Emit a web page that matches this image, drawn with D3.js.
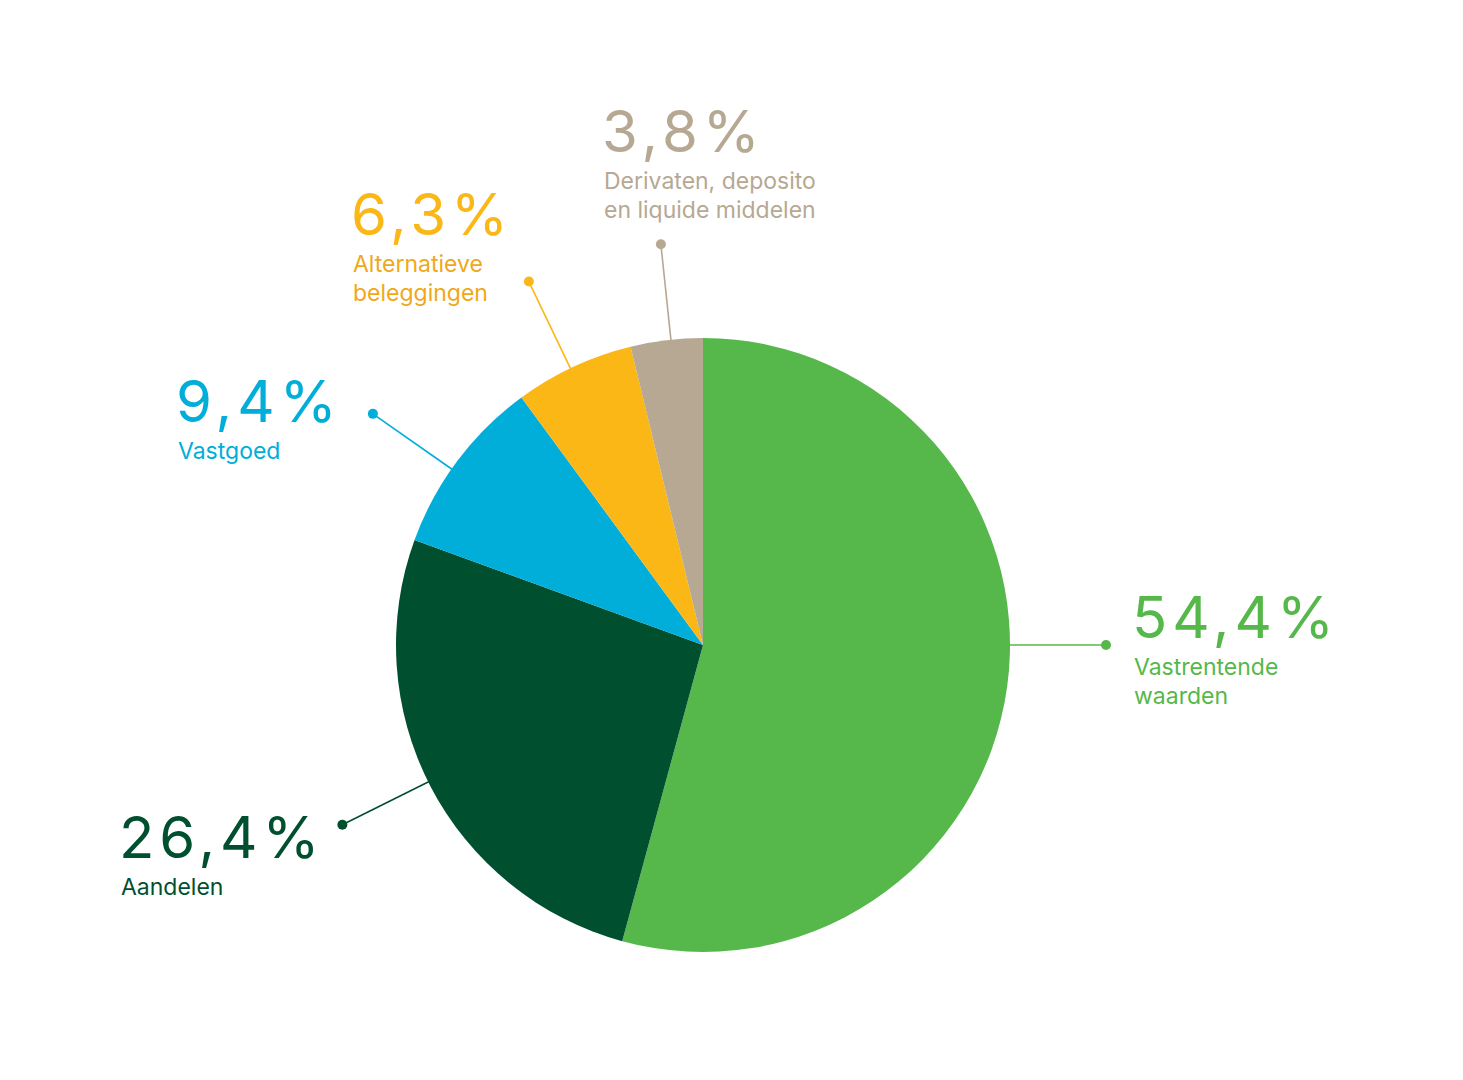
<!DOCTYPE html>
<html lang="nl">
	<head>
		<meta charset="utf-8">
		<title>Beleggingsmix</title>
		<script src="https://cdn.jsdelivr.net/npm/d3@7/dist/d3.min.js"></script>
		<style type="text/css">
			body { margin: 0; background: #fff; }
			text { font-family: Inter, "Noto Sans", sans-serif; }
		</style>
	</head>
	<body>
		<script type="text/javascript">

			// Data
			var categories = ["Vastrentende waarden", "Aandelen", "Vastgoed", "Alternatieve beleggingen", "Derivaten, deposito en liquide middelen"];
			var values = [54.4, 26.4, 9.4, 6.3, 3.8];
			var valueLabels = ["54,4%", "26,4%", "9,4%", "6,3%", "3,8%"];
			var nameLines = [["Vastrentende", "waarden"], ["Aandelen"], ["Vastgoed"], ["Alternatieve", "beleggingen"], ["Derivaten, deposito", "en liquide middelen"]];
			var colors = ["#56b84a", "#005030", "#00aed9", "#fbb716", "#b6a893"];

			// Layout: where each leader dot sits (degrees clockwise from top) and where the text block starts
			var dotAngles = [90, 243.5, 305, 334.4, 354];
			var textPos = [[1134, 638], [121, 858], [178, 422], [353, 235], [604, 152]];

			var w = 1463, h = 1080;
			var cx = 703, cy = 645;
			var r = 307, dotR = 403;

			var svg = d3.select("body")
						.append("svg")
						.attr("width", w)
						.attr("height", h);

			var pie = d3.pie().sort(null).value(function(d) { return d; });
			var arc = d3.arc().innerRadius(0).outerRadius(r);

			var g = svg.append("g").attr("transform", "translate(" + cx + "," + cy + ")");

			g.selectAll("path")
			 .data(pie(values))
			 .enter()
			 .append("path")
			 .attr("d", arc)
			 .attr("fill", function(d, i) { return colors[i]; });

			// radial scale for the leader lines
			var rad = d3.scaleLinear().domain([0, 360]).range([0, 2 * Math.PI]);
			function pt(deg, rr) {
				var a = rad(deg);
				return [Math.sin(a) * rr, -Math.cos(a) * rr];
			}

			var leaders = g.selectAll("g.leader")
						   .data(dotAngles)
						   .enter()
						   .append("g")
						   .attr("class", "leader");

			leaders.append("line")
				   .attr("x1", function(d) { return pt(d, r - 1)[0]; })
				   .attr("y1", function(d) { return pt(d, r - 1)[1]; })
				   .attr("x2", function(d) { return pt(d, dotR)[0]; })
				   .attr("y2", function(d) { return pt(d, dotR)[1]; })
				   .attr("stroke", function(d, i) { return colors[i]; })
				   .attr("stroke-width", 1.6);

			leaders.append("circle")
				   .attr("cx", function(d) { return pt(d, dotR)[0]; })
				   .attr("cy", function(d) { return pt(d, dotR)[1]; })
				   .attr("r", 5)
				   .attr("fill", function(d, i) { return colors[i]; });

			// labels
			var labels = svg.selectAll("g.label")
							.data(categories)
							.enter()
							.append("g")
							.attr("class", "label")
							.attr("transform", function(d, i) { return "translate(" + textPos[i][0] + "," + textPos[i][1] + ")"; });

			labels.append("text")
				  .text(function(d, i) { return valueLabels[i]; })
				  .attr("x", -2)
				  .attr("font-size", "58px")
				  .attr("letter-spacing", "5px")
				  .attr("fill", function(d, i) { return colors[i]; });

			labels.each(function(d, i) {
				var t = d3.select(this).append("text")
						  .attr("y", 37)
						  .attr("font-size", "23px")
						  .attr("fill", colors[i] === "#fbb716" ? "#f0a818" : colors[i]);
				t.selectAll("tspan")
				 .data(nameLines[i])
				 .enter()
				 .append("tspan")
				 .attr("x", 0)
				 .attr("dy", function(s, j) { return j === 0 ? 0 : 29; })
				 .text(function(s) { return s; });
			});

		</script>
	</body>
</html>
